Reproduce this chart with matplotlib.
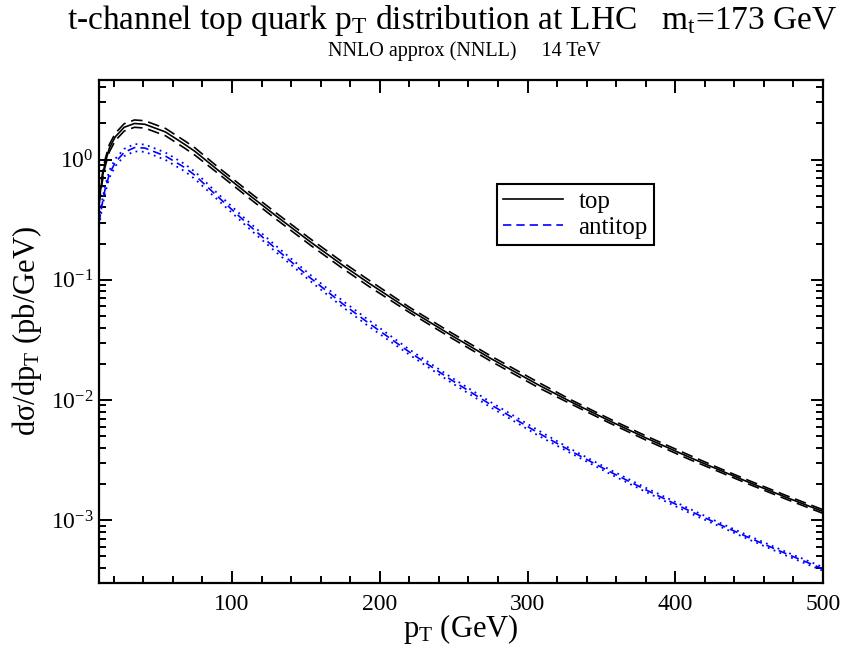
import matplotlib
matplotlib.use("Agg")
import matplotlib.pyplot as plt
import numpy as np
from matplotlib.ticker import LogLocator, LogFormatterMathtext, MultipleLocator, NullFormatter

plt.rcParams['font.family'] = ['Liberation Serif', 'DejaVu Serif']
plt.rcParams['mathtext.fontset'] = 'custom'
plt.rcParams['mathtext.rm'] = 'Liberation Serif'
plt.rcParams['mathtext.it'] = 'Liberation Serif:italic'
plt.rcParams['mathtext.bf'] = 'Liberation Serif:bold'

# ---- data ----
pt = [10, 12, 14, 17, 21, 27, 34, 41, 55, 68, 75, 90, 112, 130, 153, 175, 193,
      220, 248, 275, 308, 330, 356, 380, 410, 430, 450, 475, 500]
top_central = [0.45, 0.68, 0.93, 1.25, 1.55, 1.86, 2.0, 1.97, 1.70, 1.34, 1.17,
               0.828, 0.504, 0.339, 0.207, 0.132, 0.0932, 0.0564, 0.0348, 0.0222,
               0.01322, 0.00957, 0.00666, 0.00484, 0.00332, 0.00261, 0.00206,
               0.00155, 0.00118]
antitop_central = [0.30, 0.42, 0.56, 0.76, 0.95, 1.15, 1.26, 1.25, 1.07, 0.86, 0.74,
                   0.497, 0.281, 0.180, 0.1038, 0.0630, 0.0432, 0.0251, 0.01479,
                   0.00916, 0.00526, 0.00372, 0.00252, 0.00179, 0.00119, 0.00092,
                   0.000714, 0.000526, 0.000393]
# relative scale-uncertainty band (fraction)
top_unc = [0.07, 0.07, 0.07, 0.07, 0.07, 0.07, 0.07, 0.07, 0.07, 0.07, 0.07,
           0.06, 0.06, 0.06, 0.06, 0.06, 0.06, 0.05, 0.05, 0.05, 0.05,
           0.04, 0.04, 0.04, 0.04, 0.035, 0.035, 0.035, 0.035]
antitop_unc = [0.07, 0.07, 0.07, 0.07, 0.07, 0.07, 0.07, 0.07, 0.07, 0.07, 0.07,
               0.06, 0.06, 0.06, 0.06, 0.06, 0.06, 0.05, 0.05, 0.05, 0.05,
               0.04, 0.04, 0.04, 0.04, 0.035, 0.035, 0.035, 0.035]

title = r"t-channel top quark p$_{\mathrm{T}}$ distribution at LHC   m$_{\mathrm{t}}$=173 GeV"
subtitle = "NNLO approx (NNLL)     14 TeV"

x = np.array(pt, dtype=float)
tc = np.array(top_central)
ac = np.array(antitop_central)
tu = np.array(top_unc)
au = np.array(antitop_unc)

fig = plt.figure(figsize=(8.45, 6.56), dpi=100)
ax = fig.add_axes([0.1172, 0.1113, 0.8568, 0.7667])

lw = 1.2
ax.plot(x, tc, color='black', lw=lw, label='top')
ax.plot(x, tc * (1 + tu), color='black', lw=lw, dashes=(7, 3.5))
ax.plot(x, tc * (1 - tu), color='black', lw=lw, dashes=(7, 3.5))

ax.plot(x, ac, color='#0000ff', lw=lw, dashes=(5, 3), label='antitop')
ax.plot(x, ac * (1 + au), color='#0000ff', lw=1.3, dashes=(1, 2.5))
ax.plot(x, ac * (1 - au), color='#0000ff', lw=1.3, dashes=(1, 2.5))

ax.set_yscale('log')
ax.set_xlim(10, 500)
ax.set_ylim(3.0e-4, 4.6)

ax.xaxis.set_major_locator(MultipleLocator(100))
ax.xaxis.set_minor_locator(MultipleLocator(20))
ax.yaxis.set_major_locator(LogLocator(base=10, numticks=20))
ax.yaxis.set_minor_locator(LogLocator(base=10, subs=np.arange(2, 10), numticks=20))
ax.yaxis.set_major_formatter(LogFormatterMathtext())
ax.yaxis.set_minor_formatter(NullFormatter())

for s in ax.spines.values():
    s.set_linewidth(1.6)
ax.tick_params(which='both', direction='in', top=True, right=True, width=1.4)
ax.tick_params(which='major', length=9, labelsize=17)
ax.tick_params(axis='x', which='major', pad=8)
ax.tick_params(axis='y', which='major', pad=4)
ax.tick_params(which='minor', length=5)

ax.set_xlabel(r"p$_{\mathrm{T}}$ (GeV)", fontsize=22, labelpad=-2)
ax.set_ylabel("d\u03c3/dp$_{\\mathrm{T}}$ (pb/GeV)", fontsize=22)
ax.yaxis.set_label_coords(-0.076, 0.5)

fig.text(0.535, 0.996, title, ha='center', va='top', fontsize=24)
fig.text(0.549, 0.937, subtitle, ha='center', va='top', fontsize=14.5)

leg = ax.legend(loc='upper left', bbox_to_anchor=(0.55, 0.793), fontsize=18,
                frameon=True, fancybox=False, edgecolor='black', framealpha=1,
                handlelength=2.4, handletextpad=0.6, borderpad=0.25,
                labelspacing=0.15, borderaxespad=0)
leg.get_frame().set_linewidth(1.5)

fig.savefig('out.png', dpi=100)
